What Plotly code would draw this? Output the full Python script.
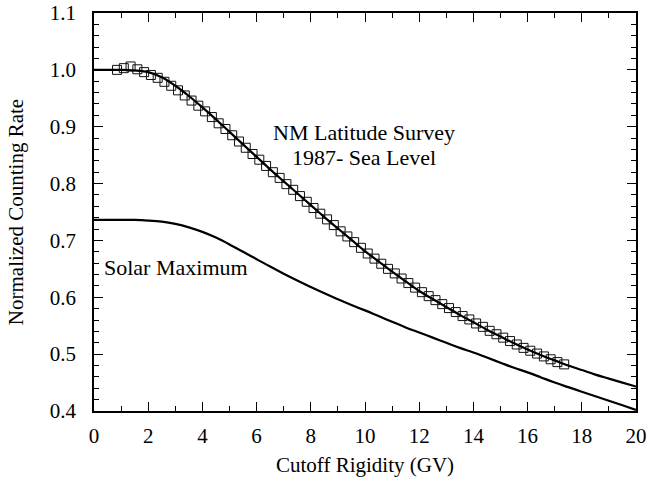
import plotly.graph_objects as go

# Solar minimum fit curve (NM latitude survey, sea level)
curve_x = [0, 0.5, 1, 1.5, 2, 2.5, 3, 3.5, 4, 4.5, 5, 5.5, 6, 6.5, 7, 7.5, 8, 8.5, 9, 9.5,
           10, 10.5, 11, 11.5, 12, 12.5, 13, 13.5, 14, 14.5, 15, 15.5, 16, 16.5, 17, 17.5,
           18, 18.5, 19, 19.5, 20]
solar_min = [1.000, 1.000, 1.000, 0.999, 0.996, 0.987, 0.972, 0.954, 0.934, 0.913, 0.891,
             0.869, 0.847, 0.825, 0.804, 0.783, 0.762, 0.741, 0.721, 0.701, 0.681, 0.663,
             0.645, 0.628, 0.611, 0.597, 0.583, 0.569, 0.556, 0.543, 0.531, 0.519, 0.508,
             0.498, 0.489, 0.480, 0.472, 0.464, 0.457, 0.450, 0.443]
solar_max = [0.736, 0.736, 0.736, 0.736, 0.735, 0.733, 0.729, 0.723, 0.715, 0.705, 0.693,
             0.680, 0.667, 0.654, 0.6415, 0.6295, 0.618, 0.607, 0.5965, 0.5865, 0.577, 0.567,
             0.557, 0.547, 0.538, 0.529, 0.520, 0.511, 0.503, 0.494, 0.485, 0.476, 0.468,
             0.459, 0.450, 0.442, 0.434, 0.426, 0.418, 0.410, 0.402]

# 1987 survey measurements
survey_x = [0.85, 1.10, 1.35, 1.60, 1.85, 2.10, 2.35, 2.60, 2.85, 3.10, 3.35, 3.60, 3.85,
            4.10, 4.35, 4.60, 4.85, 5.10, 5.35, 5.60, 5.85, 6.10, 6.35, 6.60, 6.85, 7.10,
            7.35, 7.60, 7.85, 8.10, 8.35, 8.60, 8.85, 9.10, 9.35, 9.60, 9.85, 10.10, 10.35,
            10.60, 10.85, 11.10, 11.35, 11.60, 11.85, 12.10, 12.35, 12.60, 12.85, 13.10,
            13.35, 13.60, 13.85, 14.10, 14.35, 14.60, 14.85, 15.10, 15.35, 15.60, 15.85,
            16.10, 16.35, 16.60, 16.85, 17.10, 17.35]
survey_y = [1.000, 1.003, 1.006, 1.001, 0.996, 0.991, 0.986, 0.979, 0.972, 0.964, 0.955,
            0.946, 0.937, 0.927, 0.917, 0.906, 0.896, 0.885, 0.874, 0.863, 0.852, 0.842,
            0.831, 0.820, 0.810, 0.799, 0.789, 0.778, 0.768, 0.757, 0.747, 0.737, 0.727,
            0.716, 0.707, 0.697, 0.687, 0.677, 0.668, 0.659, 0.650, 0.642, 0.633, 0.625,
            0.617, 0.609, 0.602, 0.595, 0.588, 0.581, 0.574, 0.567, 0.561, 0.554, 0.548,
            0.541, 0.535, 0.529, 0.523, 0.517, 0.511, 0.506, 0.501, 0.496, 0.491, 0.486,
            0.482]

FONT = "Liberation Serif"
FS = 21

fig = go.Figure()
fig.add_trace(go.Scatter(x=survey_x, y=survey_y, mode="markers",
                         marker=dict(symbol="square-open", size=9, color="#111",
                                     line=dict(width=1, color="#111")),
                         showlegend=False))
fig.add_trace(go.Scatter(x=curve_x, y=solar_min, mode="lines",
                         line=dict(color="black", width=2.2, shape="spline"),
                         showlegend=False))
fig.add_trace(go.Scatter(x=curve_x, y=solar_max, mode="lines",
                         line=dict(color="black", width=2.2, shape="spline"),
                         showlegend=False))

fig.add_annotation(x=9.96, y=0.889, text="NM Latitude Survey",
                   showarrow=False, xanchor="center", yanchor="middle",
                   font=dict(family=FONT, size=22, color="black"))
fig.add_annotation(x=9.96, y=0.845, text="1987- Sea Level",
                   showarrow=False, xanchor="center", yanchor="middle",
                   font=dict(family=FONT, size=22, color="black"))
fig.add_annotation(x=0.3, y=0.653, text="Solar Maximum", showarrow=False,
                   xanchor="left", yanchor="middle",
                   font=dict(family=FONT, size=22, color="black"))

axis_common = dict(showline=True, linecolor="black", linewidth=1.5, mirror="allticks",
                   ticks="inside", ticklen=9, tickwidth=1.2, tickcolor="black",
                   showgrid=False, zeroline=False, automargin=False,
                   tickfont=dict(family=FONT, size=FS, color="black"))

fig.update_xaxes(range=[0, 20], dtick=2, tick0=0,
                 minor=dict(dtick=1, ticks="inside", ticklen=5, tickcolor="black", tickwidth=1),
                 title=dict(text="Cutoff Rigidity (GV)", font=dict(family=FONT, size=FS, color="black"),
                            standoff=10),
                 ticklabelstandoff=5, **axis_common)
fig.update_yaxes(range=[0.4, 1.1], dtick=0.1, tick0=0.4, tickformat=".1f",
                 minor=dict(dtick=0.02, ticks="inside", ticklen=5, tickcolor="black", tickwidth=1),
                 title=dict(text="Normalized Counting Rate", font=dict(family=FONT, size=FS, color="black"),
                            standoff=20),
                 ticklabelstandoff=12, **axis_common)

fig.update_layout(width=650, height=484, plot_bgcolor="white", paper_bgcolor="white",
                  font=dict(family=FONT, color="black"),
                  margin=dict(l=94, r=14, t=13, b=73))

fig.write_html("out.html")
